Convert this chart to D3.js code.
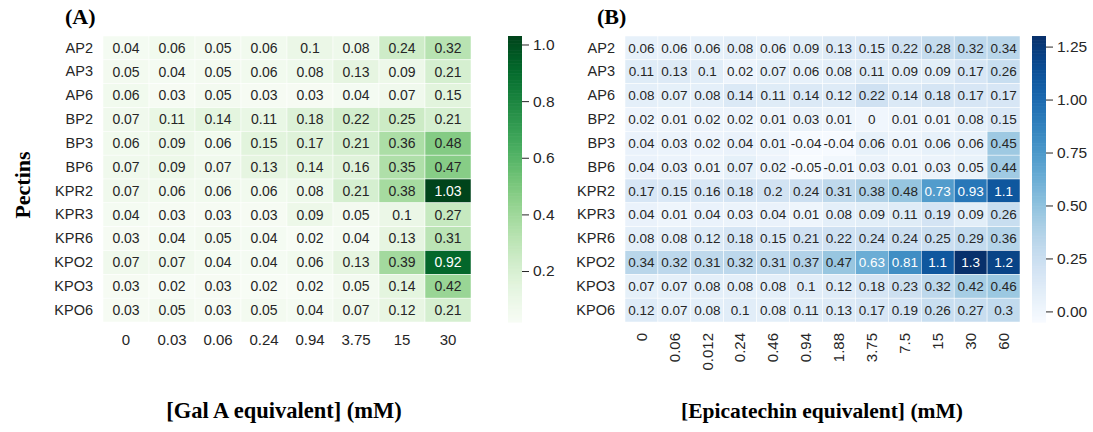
<!DOCTYPE html>
<html><head><meta charset="utf-8">
<script src="https://cdn.jsdelivr.net/npm/d3@7"></script>
<style>body{margin:0;background:#fff}svg{display:block}</style>
</head><body><svg id="c" width="1093" height="432"></svg>
<script>
const rows = ["AP2","AP3","AP6","BP2","BP3","BP6","KPR2","KPR3","KPR6","KPO2","KPO3","KPO6"];
const colsA = ["0","0.03","0.06","0.24","0.94","3.75","15","30"];
const colsB = ["0","0.06","0.012","0.24","0.46","0.94","1.88","3.75","7.5","15","30","60"];
const valuesA = [
 [0.04,0.06,0.05,0.06,0.1,0.08,0.24,0.32],
 [0.05,0.04,0.05,0.06,0.08,0.13,0.09,0.21],
 [0.06,0.03,0.05,0.03,0.03,0.04,0.07,0.15],
 [0.07,0.11,0.14,0.11,0.18,0.22,0.25,0.21],
 [0.06,0.09,0.06,0.15,0.17,0.21,0.36,0.48],
 [0.07,0.09,0.07,0.13,0.14,0.16,0.35,0.47],
 [0.07,0.06,0.06,0.06,0.08,0.21,0.38,1.03],
 [0.04,0.03,0.03,0.03,0.09,0.05,0.1,0.27],
 [0.03,0.04,0.05,0.04,0.02,0.04,0.13,0.31],
 [0.07,0.07,0.04,0.04,0.06,0.13,0.39,0.92],
 [0.03,0.02,0.03,0.02,0.02,0.05,0.14,0.42],
 [0.03,0.05,0.03,0.05,0.04,0.07,0.12,0.21]
];
const valuesB = [
 [0.06,0.06,0.06,0.08,0.06,0.09,0.13,0.15,0.22,0.28,0.32,0.34],
 [0.11,0.13,0.1,0.02,0.07,0.06,0.08,0.11,0.09,0.09,0.17,0.26],
 [0.08,0.07,0.08,0.14,0.11,0.14,0.12,0.22,0.14,0.18,0.17,0.17],
 [0.02,0.01,0.02,0.02,0.01,0.03,0.01,0,0.01,0.01,0.08,0.15],
 [0.04,0.03,0.02,0.04,0.01,-0.04,-0.04,0.06,0.01,0.06,0.06,0.45],
 [0.04,0.03,0.01,0.07,0.02,-0.05,-0.01,0.03,0.01,0.03,0.05,0.44],
 [0.17,0.15,0.16,0.18,0.2,0.24,0.31,0.38,0.48,0.73,0.93,1.1],
 [0.04,0.01,0.04,0.03,0.04,0.01,0.08,0.09,0.11,0.19,0.09,0.26],
 [0.08,0.08,0.12,0.18,0.15,0.21,0.22,0.24,0.24,0.25,0.29,0.36],
 [0.34,0.32,0.31,0.32,0.31,0.37,0.47,0.63,0.81,1.1,1.3,1.2],
 [0.07,0.07,0.08,0.08,0.08,0.1,0.12,0.18,0.23,0.32,0.42,0.46],
 [0.12,0.07,0.08,0.1,0.08,0.11,0.13,0.17,0.19,0.26,0.27,0.3]
];
const ticksA = [0.2,0.4,0.6,0.8,1.0];
const ticksB = [0.00,0.25,0.50,0.75,1.00,1.25];

const svg = d3.select("#c");
const SANS = "'Liberation Sans', Arial, sans-serif";
const SERIF = "'Liberation Serif', 'Times New Roman', serif";
const INK = "#262626";

function lum(c){
  const rgb = d3.rgb(c);
  const f = v => { v/=255; return v<=0.03928 ? v/12.92 : Math.pow((v+0.055)/1.055,2.4); };
  return 0.2126*f(rgb.r)+0.7152*f(rgb.g)+0.0722*f(rgb.b);
}
const fmt = v => String(+v.toFixed(2));

function heatmap(cfg){
  const {cols, values, x0, x1, y0, y1, interp, ticks, tickFmt, cbx, rotate, annSize} = cfg;
  const flat = values.flat();
  const vmin = d3.min(flat), vmax = d3.max(flat);
  const color = d3.scaleSequential(interp).domain([vmin, vmax]);
  const x = d3.scaleBand().domain(cols.map((c,i)=>i)).range([x0,x1]);
  const y = d3.scaleBand().domain(rows).range([y0,y1]);
  const g = svg.append("g");
  values.forEach((r,ri)=>{
    r.forEach((v,ci)=>{
      const c = color(v);
      g.append("rect").attr("x",x(ci)).attr("y",y(rows[ri]))
        .attr("width",x.bandwidth()).attr("height",y.bandwidth())
        .attr("fill",c).attr("stroke","#fff").attr("stroke-width",0.5);
      g.append("text").attr("x",x(ci)+x.bandwidth()/2).attr("y",y(rows[ri])+y.bandwidth()/2)
        .attr("dy","0.35em").attr("text-anchor","middle")
        .attr("font-family",SANS).attr("font-size",annSize)
        .attr("fill", lum(c) > 0.408 ? INK : "#fff")
        .text(fmt(v));
    });
  });
  const ya = d3.axisLeft(y).tickSize(0).tickPadding(10);
  const yg = svg.append("g").attr("transform",`translate(${x0},0)`).call(ya);
  yg.select(".domain").remove();
  yg.selectAll("text").attr("font-family",SANS).attr("font-size",14.5).attr("fill",INK);
  const xa = d3.axisBottom(x).tickSize(0).tickFormat(i=>cols[i]);
  const xg = svg.append("g").attr("transform",`translate(0,${y1})`).call(xa);
  xg.select(".domain").remove();
  if(rotate){
    xg.selectAll("text").attr("font-family",SANS).attr("font-size",15).attr("fill",INK)
      .attr("transform","rotate(-90)").attr("text-anchor","end")
      .attr("x",-11).attr("y",0).attr("dy","0.35em");
  } else {
    xg.selectAll("text").attr("font-family",SANS).attr("font-size",15).attr("fill",INK)
      .attr("y",18).attr("dy","0.35em");
  }
  const cw = 14;
  const cy = d3.scaleLinear().domain([vmin,vmax]).range([y1,y0]);
  const n = 200;
  const steps = d3.range(n).map(i => vmin + (vmax-vmin)*(i+0.5)/n);
  const hh = (y1-y0)/n;
  svg.append("g").selectAll("rect").data(steps).join("rect")
    .attr("x",cbx).attr("y",(d,i)=>y1-(i+1)*hh).attr("width",cw).attr("height",hh+0.6)
    .attr("fill",d=>color(d));
  const ca = d3.axisRight(cy).tickValues(ticks).tickFormat(d3.format(tickFmt)).tickSize(7).tickPadding(4);
  const cg = svg.append("g").attr("transform",`translate(${cbx+cw},0)`).call(ca);
  cg.select(".domain").remove();
  cg.selectAll("line").attr("stroke",INK);
  cg.selectAll("text").attr("font-family",SANS).attr("font-size",15.5).attr("fill",INK);
}

heatmap({cols:colsA, values:valuesA, x0:103, x1:471, y0:36, y1:322, interp:d3.interpolateGreens,
  ticks:ticksA, tickFmt:".1f", cbx:508, rotate:false, annSize:14});
heatmap({cols:colsB, values:valuesB, x0:625, x1:1020, y0:36, y1:322, interp:d3.interpolateBlues,
  ticks:ticksB, tickFmt:".2f", cbx:1032, rotate:true, annSize:13.5});

const title = (x,y,t) => svg.append("text").attr("x",x).attr("y",y).attr("font-family",SERIF)
  .attr("font-weight","bold").attr("font-size",22).attr("fill","#000").text(t);
title(65,24,"(A)");
title(597,24,"(B)");
svg.append("text").attr("x",284).attr("y",418).attr("text-anchor","middle").attr("font-family",SERIF)
  .attr("font-weight","bold").attr("font-size",22.5).attr("fill","#000").text("[Gal A equivalent] (mM)");
svg.append("text").attr("x",822).attr("y",418).attr("text-anchor","middle").attr("font-family",SERIF)
  .attr("font-weight","bold").attr("font-size",21.5).attr("fill","#000").text("[Epicatechin equivalent] (mM)");
svg.append("text").attr("transform","translate(30,185) rotate(-90)").attr("text-anchor","middle")
  .attr("font-family",SERIF).attr("font-weight","bold").attr("font-size",22).attr("fill","#000").text("Pectins");
</script></body></html>
